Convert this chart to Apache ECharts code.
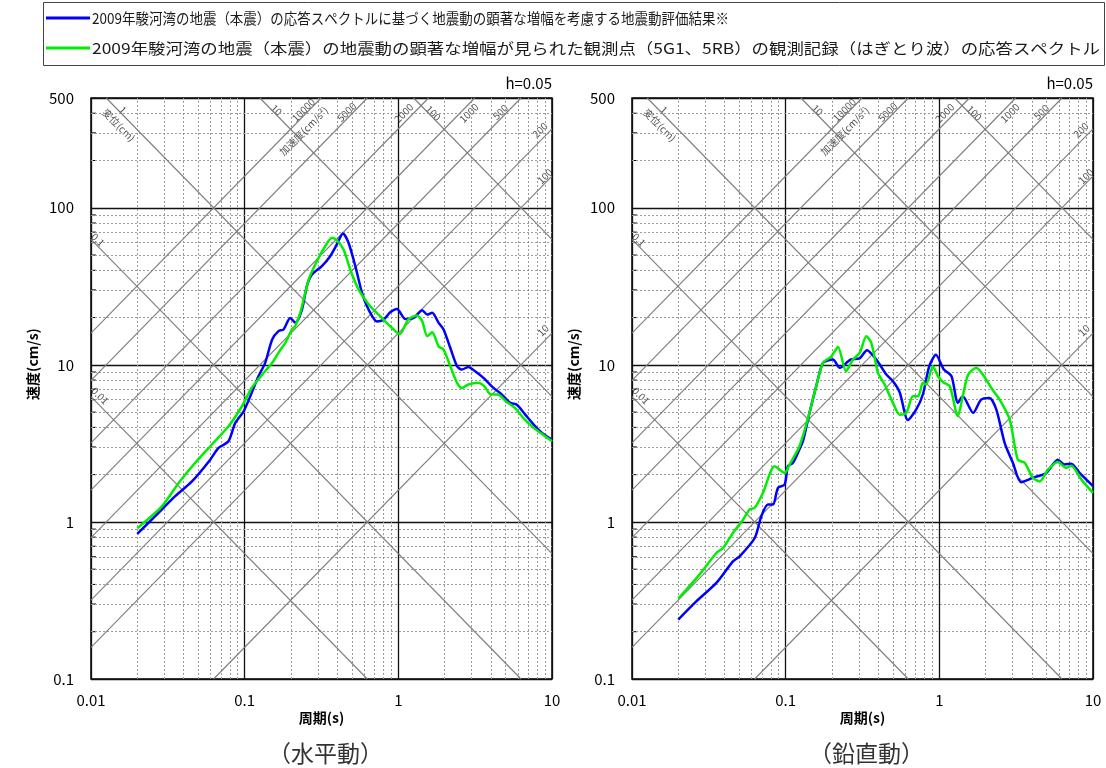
<!DOCTYPE html>
<html><head><meta charset="utf-8">
<script src="https://cdn.jsdelivr.net/npm/echarts@6/dist/echarts.min.js"></script>
<style>html,body{margin:0;padding:0;background:#fff}#c{width:1106px;height:768px}</style>
</head><body><div id="c"></div>
<script>
// ---------- data ----------
const seriesNames = [
  '2009年駿河湾の地震（本震）の応答スペクトルに基づく地震動の顕著な増幅を考慮する地震動評価結果※',
  '2009年駿河湾の地震（本震）の地震動の顕著な増幅が見られた観測点（5G1、5RB）の観測記録（はぎとり波）の応答スペクトル'
];
const panelTitles = ['（水平動）', '（鉛直動）'];
const xAxisName = '周期(s)';
const yAxisName = '速度(cm/s)';
const dampingText = 'h=0.05';
const yLabelValues = [0.1, 1, 10, 100, 500];

// horizontal (水平動)
const hBlueT = [0.02,0.0255,0.0353,0.0454,0.0597,0.0676,0.0785,0.0869,0.0985,0.1087,0.123,0.136,0.151,0.166,0.179,0.198,0.214,0.236,0.254,0.274,0.318,0.360,0.398,0.436,0.474,0.525,0.580,0.640,0.726,0.802,0.886,0.98,1.11,1.26,1.43,1.54,1.66,1.83,1.97,2.18,2.41,2.59,2.86,3.16,3.58,4.16,4.72,5.35,5.91,6.70,7.59,8.6,10];
const hBlueV = [0.84,1.06,1.46,1.81,2.49,2.96,3.26,4.27,5.06,6.3,8.46,10.3,14.5,16.4,16.8,19.9,18.5,22.5,31.7,37.6,42.5,49.2,58.4,68.6,59.9,42.5,28.8,22.5,18.9,19.4,21.6,22.7,19.6,19.9,22.3,20.9,21.5,18.5,16.8,12.8,9.8,9.33,9.7,9.1,8.26,7.13,6.47,5.73,5.58,4.82,4.17,3.69,3.34];
const hGreenT = [0.02,0.029,0.0372,0.0477,0.0612,0.0785,0.096,0.111,0.130,0.151,0.171,0.184,0.203,0.213,0.230,0.261,0.295,0.334,0.370,0.398,0.440,0.486,0.551,0.656,0.762,0.886,1.02,1.16,1.32,1.43,1.54,1.66,1.83,1.97,2.18,2.41,2.59,2.86,3.3,3.63,4.0,4.45,5.0,5.74,6.5,7.4,8.4,10];
const hGreenV = [0.91,1.26,1.77,2.38,3.11,4.06,5.45,7.13,8.67,10.3,12.5,13.8,16.8,17.6,21.4,34.9,45.7,56.9,64.4,62,54.2,40.5,30.2,23.6,20.4,17.6,15.7,19.4,20.6,19,15.2,16.1,13.1,12.5,9.8,7.68,7.13,7.5,7.68,7.3,6.47,6.47,5.87,5.32,4.6,4.06,3.69,3.26];

// vertical (鉛直動)
const vBlueT = [0.02,0.0262,0.0354,0.0454,0.0502,0.0629,0.0695,0.0767,0.0827,0.0891,0.0985,0.1035,0.1115,0.123,0.130,0.143,0.158,0.175,0.203,0.225,0.264,0.303,0.338,0.389,0.452,0.499,0.552,0.625,0.708,0.782,0.860,0.95,1.07,1.2,1.32,1.42,1.66,1.87,2.12,2.35,2.66,3.01,3.41,4.06,4.96,5.90,6.53,7.22,8.18,10];
const vBlueV = [0.239,0.312,0.409,0.561,0.604,0.79,1.09,1.29,1.29,1.65,1.73,2.26,2.38,2.9,3.3,4.95,7.3,10.3,10.8,9.57,10.8,11.0,12.4,10.8,8.67,7.87,6.7,4.45,5.2,6.5,9.8,11.6,9.35,8.46,5.73,6.31,4.95,6.01,6.16,5.19,3.19,2.38,1.79,1.91,2.05,2.49,2.32,2.35,2.05,1.69];
const vGreenT = [0.02,0.0275,0.0354,0.0391,0.0454,0.0527,0.0583,0.0629,0.0711,0.0848,0.0985,0.106,0.123,0.140,0.158,0.175,0.198,0.219,0.247,0.274,0.303,0.335,0.361,0.399,0.441,0.499,0.552,0.610,0.673,0.727,0.782,0.82,0.908,0.98,1.06,1.17,1.32,1.42,1.54,1.74,1.92,2.18,2.47,2.87,3.24,3.59,4.06,4.49,5.09,5.9,6.7,7.22,8.4,10];
const vGreenV = [0.325,0.462,0.634,0.683,0.851,1.03,1.2,1.23,1.53,2.26,2.05,2.32,3.03,4.6,7.3,10.3,11.3,13.0,9.1,10.8,11.9,15.2,13.8,8.9,7.5,5.73,4.82,4.95,6.31,6.31,7.68,7.5,9.8,8.46,7.75,7.3,4.71,6.31,8.67,9.57,8.67,7.13,6.01,4.49,2.49,2.38,1.91,1.81,2.15,2.41,2.21,2.28,1.86,1.53];

// tripartite reference lines
const accelValues = [10, 100, 200, 500, 1000, 2000, 5000, 10000];   // cm/s^2
const dispValues = [0.01, 0.1, 1, 10, 100];                           // cm

// ---------- layout / style ----------
const FONT = '"Noto Sans CJK JP","Noto Sans",sans-serif';
const X_MIN = 0.01, X_MAX = 10, Y_MIN = 0.1, Y_MAX = 500;
const grids = [
  {left: 91, top: 98, width: 461, height: 581},
  {left: 632, top: 98, width: 461, height: 581}
];
const BLUE = '#0000ff', GREEN = '#00ee00';
const PX_DEC_X = grids[0].width / Math.log10(X_MAX / X_MIN);
const PX_DEC_Y = grids[0].height / Math.log10(Y_MAX / Y_MIN);

function nice(x){ return Number(x.toPrecision(6)); }
const xMinor = [], yMinor = [];
[-2,-1,0].forEach(e => { for (let m=2;m<=9;m++) xMinor.push(nice(m*Math.pow(10,e))); });
[-1,0,1].forEach(e => { for (let m=2;m<=9;m++) yMinor.push(nice(m*Math.pow(10,e))); });
[200,300,400].forEach(v => yMinor.push(v));

function accSeg(a){
  const k = a/(2*Math.PI);
  const T1 = Math.max(X_MIN, Y_MIN/k), T2 = Math.min(X_MAX, Y_MAX/k);
  return [{coord:[T1, k*T1]}, {coord:[T2, k*T2]}];
}
function dispSeg(d){
  const c = 2*Math.PI*d;
  const T1 = Math.max(X_MIN, c/Y_MAX), T2 = Math.min(X_MAX, c/Y_MIN);
  return [{coord:[T1, c/T1]}, {coord:[T2, c/T2]}];
}
function onLine(l){
  let p;
  if (l.kind === 'a') p = l.at.v != null ? [2*Math.PI*l.at.v/l.val, l.at.v] : [l.at.T, l.val*l.at.T/(2*Math.PI)];
  else p = l.at.v != null ? [2*Math.PI*l.val/l.at.v, l.at.v] : [l.at.T, 2*Math.PI*l.val/l.at.T];
  // shift label anchor by a pixel offset (converted to log-space)
  return [p[0]*Math.pow(10, l.off[0]/PX_DEC_X), p[1]*Math.pow(10, -l.off[1]/PX_DEC_Y)];
}
const refLabels = [
  {kind:'a', val:10000, text:'10000', at:{v:420}, off:[-6,0]},
  {kind:'a', val:10000, text:'加速度(cm/s²)', at:{v:308}, off:[15,0]},
  {kind:'a', val:5000, text:'5000', at:{v:407}, off:[-7,0]},
  {kind:'a', val:2000, text:'2000', at:{v:401}, off:[-10,0]},
  {kind:'a', val:1000, text:'1000', at:{v:401}, off:[9,0]},
  {kind:'a', val:500, text:'500', at:{v:407}, off:[-7,0]},
  {kind:'a', val:200, text:'200', at:{T:8.35}, off:[0,-11]},
  {kind:'a', val:100, text:'100', at:{T:9.0}, off:[0,-7]},
  {kind:'a', val:10, text:'10', at:{T:8.74}, off:[0,-12]},
  {kind:'d', val:1, text:'1', at:{v:420}, off:[5,0]},
  {kind:'d', val:1, text:'変位(cm)', at:{v:336}, off:[-14,0]},
  {kind:'d', val:10, text:'10', at:{v:420}, off:[5,0]},
  {kind:'d', val:100, text:'100', at:{v:401}, off:[5,0]},
  {kind:'d', val:0.1, text:'0.1', at:{T:0.0111}, off:[0,-7]},
  {kind:'d', val:0.01, text:'0.01', at:{T:0.01144}, off:[0,-10]}
];

const option = {
  backgroundColor: '#fff',
  animation: false,
  textStyle: {fontFamily: FONT},
  grid: grids.map(g => Object.assign({show: true, borderColor: '#000', borderWidth: 1.5, backgroundColor: '#fff'}, g)),
  xAxis: grids.map((g, i) => ({
    type: 'log', logBase: 10, gridIndex: i, min: X_MIN, max: X_MAX,
    axisLine: {show: false}, axisTick: {show: false},
    axisLabel: {fontSize: 15, color: '#000', margin: 14, fontFamily: FONT},
    splitLine: {show: true, lineStyle: {color: '#111', width: 1.3}}
  })),
  yAxis: grids.map((g, i) => ({
    type: 'log', logBase: 10, gridIndex: i, min: Y_MIN, max: Y_MAX,
    axisLine: {show: false}, axisTick: {show: false},
    axisLabel: {fontSize: 15, color: '#000', margin: 17, fontFamily: FONT, customValues: yLabelValues, showMaxLabel: true},
    splitLine: {show: true, lineStyle: {color: '#111', width: 1.3}}
  })),
  series: [],
  graphic: []
};

grids.forEach((g, i) => {
  // minor grid lines
  option.series.push({
    type: 'line', xAxisIndex: i, yAxisIndex: i, z: 1, silent: true,
    data: [[X_MIN, Y_MIN]], symbol: 'none', lineStyle: {opacity: 0},
    markLine: {
      silent: true, symbol: 'none', animation: false, label: {show: false},
      lineStyle: {color: '#9a9a9a', type: [2, 2], width: 1},
      data: xMinor.map(x => ({xAxis: x})).concat(yMinor.map(y => ({yAxis: y})))
    }
  });
  // tripartite diagonal lines
  option.series.push({
    type: 'line', xAxisIndex: i, yAxisIndex: i, z: 2, silent: true,
    data: [[X_MIN, Y_MIN]], symbol: 'none', lineStyle: {opacity: 0},
    markLine: {
      silent: true, symbol: 'none', animation: false, label: {show: false},
      lineStyle: {color: '#7d7d7d', type: 'solid', width: 1.1},
      data: accelValues.map(accSeg).concat(dispValues.map(dispSeg))
    }
  });
  // minor ticks on the left axis
  option.series.push({
    type: 'custom', xAxisIndex: i, yAxisIndex: i, z: 3, silent: true,
    data: yMinor.map(v => [X_MIN, v]),
    renderItem: (params, api) => {
      const p = api.coord([api.value(0), api.value(1)]);
      return {type: 'line', shape: {x1: p[0], y1: p[1], x2: p[0] + 5, y2: p[1]}, style: {stroke: '#000', lineWidth: 1}};
    }
  });
  // labels of diagonal lines
  option.series.push({
    type: 'scatter', xAxisIndex: i, yAxisIndex: i, z: 4, silent: true,
    symbolSize: 0,
    data: refLabels.map(l => ({
      value: onLine(l),
      label: {show: true, position: 'inside', formatter: l.text, rotate: l.kind === 'a' ? 45 : -45,
        fontSize: 10, color: '#222', fontFamily: FONT}
    }))
  });
});

const curves = [
  [hBlueT, hBlueV, hGreenT, hGreenV],
  [vBlueT, vBlueV, vGreenT, vGreenV]
];
curves.forEach((c, i) => {
  option.series.push({
    name: seriesNames[0], type: 'line', xAxisIndex: i, yAxisIndex: i, z: 5,
    data: c[0].map((t, k) => [t, c[1][k]]), symbol: 'none', smooth: 0.25,
    lineStyle: {color: BLUE, width: 2.5}, itemStyle: {color: BLUE}
  });
  option.series.push({
    name: seriesNames[1], type: 'line', xAxisIndex: i, yAxisIndex: i, z: 6,
    data: c[2].map((t, k) => [t, c[3][k]]), symbol: 'none', smooth: 0.25,
    lineStyle: {color: GREEN, width: 2.5}, itemStyle: {color: GREEN}
  });
});

// legend box (drawn so that each entry spans the same width as in the reference)
const measureCtx = document.createElement('canvas').getContext('2d');
const LEG_FONT = '15px ' + FONT;
measureCtx.font = LEG_FONT;
const legendRows = [
  {color: BLUE, y: 18, textRight: 729},
  {color: GREEN, y: 48, textRight: 1100}
];
option.graphic.push({type: 'rect', shape: {x: 43.5, y: 2.5, width: 1061, height: 63}, style: {fill: 'none', stroke: '#444', lineWidth: 1}});
legendRows.forEach((r, k) => {
  const w = measureCtx.measureText(seriesNames[k]).width;
  const textLeft = 92;
  option.graphic.push(
    {type: 'line', shape: {x1: 46, y1: r.y, x2: 90, y2: r.y}, style: {stroke: r.color, lineWidth: 3}},
    {type: 'text', x: textLeft, y: r.y, scaleX: (r.textRight - textLeft) / w,
      style: {text: seriesNames[k], font: LEG_FONT, fill: '#1a1a1a', textAlign: 'left', textVerticalAlign: 'middle'}}
  );
});

grids.forEach((g, i) => {
  const cx = g.left + g.width / 2;
  option.graphic.push(
    {type: 'text', x: g.left + g.width, y: 83, style: {text: dampingText, fill: '#000', font: '15px ' + FONT, textAlign: 'right', textVerticalAlign: 'middle'}},
    {type: 'text', x: cx, y: 718, style: {text: xAxisName, fill: '#000', font: 'bold 14px ' + FONT, textAlign: 'center', textVerticalAlign: 'middle'}},
    {type: 'text', x: g.left - 58, y: 364, rotation: Math.PI / 2, style: {text: yAxisName, fill: '#000', font: 'bold 14px ' + FONT, textAlign: 'center', textVerticalAlign: 'middle'}},
    {type: 'text', x: cx + 4, y: 753, style: {text: panelTitles[i], fill: '#333', font: '23px ' + FONT, textAlign: 'center', textVerticalAlign: 'middle'}}
  );
});

const chart = echarts.init(document.getElementById('c'));
chart.setOption(option);
</script>
</body></html>
